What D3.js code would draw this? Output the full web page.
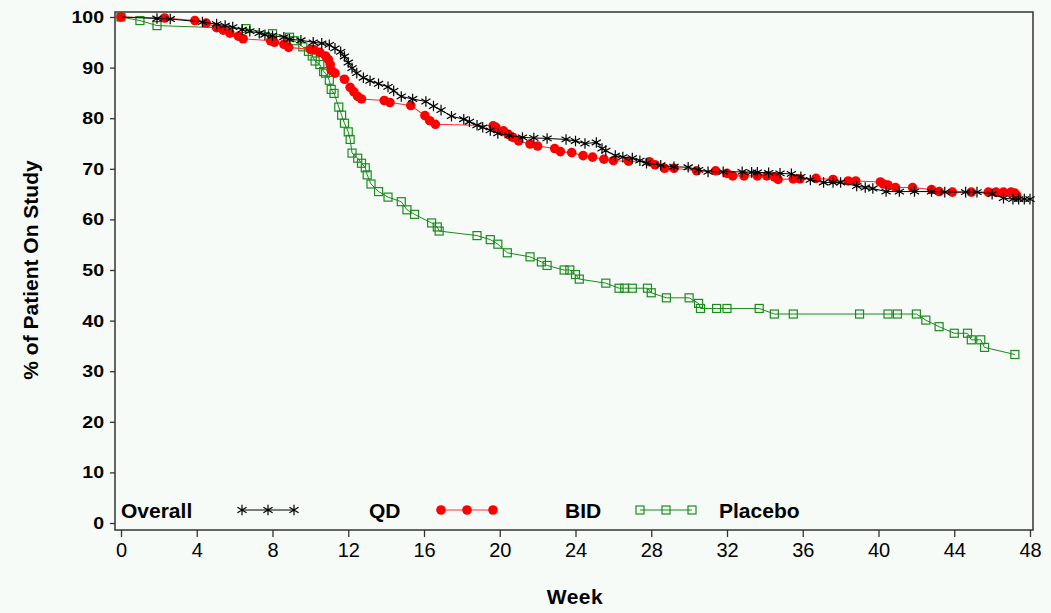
<!DOCTYPE html>
<html>
<head>
<meta charset="utf-8">
<script src="https://cdn.jsdelivr.net/npm/d3@7"></script>
<style>
  body { margin: 0; background: #f6fbf8; }
  svg { display: block; font-family: "Liberation Sans", Arial, sans-serif; }
</style>
</head>
<body>
<div class="container"></div>
<script>
// ---- data (week, % on study) ----
var overallWeeks = [0,1.9,2.6,4.3,5.05,5.5,5.9,6.4,6.8,7.3,7.6,8.0,8.6,8.9,9.5,10.15,10.6,11.0,11.3,11.6,11.8,12.0,12.2,12.45,12.8,13.15,13.6,14.1,14.4,14.8,15.4,16.1,16.5,16.9,17.45,18.1,18.4,18.8,19.1,19.5,19.9,20.5,21.2,21.8,22.5,23.5,24.0,24.5,25.1,25.4,25.6,26.1,26.5,27.0,27.4,27.75,28.5,29.2,29.95,30.5,31.0,31.8,32.8,33.3,33.6,34.2,34.8,35.4,35.9,36.4,37.1,37.6,38.0,38.85,39.3,39.7,40.4,41.1,41.9,42.8,43.5,44.6,45.2,46.0,46.6,47.1,47.4,47.7,48.0];
var overallPct = [100,99.7,99.6,99.0,98.6,98.3,98.0,97.5,97.2,96.8,96.5,96.3,96.0,95.6,95.4,95.0,94.8,94.5,93.8,93.1,92.2,91.0,89.9,88.9,88.0,87.4,86.8,86.2,85.4,84.3,83.8,83.3,82.4,81.6,80.4,79.8,79.3,78.6,78.2,77.6,77.0,76.6,76.2,76.1,76.0,75.8,75.5,75.0,75.2,74.0,73.6,72.6,72.3,72.1,71.6,71.1,70.7,70.4,70.3,69.8,69.4,69.4,69.4,69.3,69.3,69.2,69.1,69.0,68.4,67.8,67.3,67.3,67.3,66.6,66.3,66.1,65.5,65.5,65.5,65.5,65.4,65.4,65.4,65.0,64.2,64.0,64.0,64.0,64.0];

var qdWeeks = [0,2.3,3.9,4.5,5.05,5.4,5.75,6.2,6.45,7.9,8.1,8.6,8.85,10.0,10.2,10.5,10.8,10.95,11.05,11.1,11.3,11.8,12.1,12.3,12.5,12.7,13.9,14.2,15.3,16.05,16.3,16.6,19.65,19.8,20.2,20.45,20.7,21.0,21.6,22.0,22.9,23.2,23.8,24.4,24.9,25.5,26.0,26.8,27.9,28.2,28.7,29.2,30.4,31.4,32.0,32.3,32.9,33.6,34.1,34.5,34.7,35.5,35.85,36.7,37.6,38.4,38.8,40.1,40.25,40.5,40.9,41.8,42.8,43.2,43.9,44.9,45.8,46.2,46.6,47.0,47.2,47.3];
var qdPct = [100,99.8,99.3,98.8,97.9,97.4,96.8,96.2,95.7,95.3,95.0,94.6,94.0,93.6,93.5,93.0,92.3,91.6,90.6,89.5,88.9,87.7,86.1,85.2,84.3,83.8,83.5,83.1,82.5,80.5,79.5,78.8,78.5,78.2,77.5,76.8,76.2,75.5,74.9,74.5,74.0,73.4,73.2,72.6,72.3,71.9,71.6,71.5,71.4,70.8,70.1,70.1,69.6,69.6,69.1,68.6,68.6,68.6,68.6,68.4,67.9,68.0,68.0,68.1,67.9,67.6,67.6,67.4,67.0,66.8,66.3,66.3,65.9,65.5,65.4,65.4,65.4,65.4,65.4,65.4,65.2,64.7];

var bidWeeks = [0,1.0,1.9,6.6,8.0,8.9,9.15,9.6,9.9,10.1,10.25,10.5,10.7,10.8,11.0,11.1,11.25,11.5,11.65,11.8,12.0,12.1,12.2,12.5,12.7,12.9,13.0,13.2,13.6,14.1,14.8,15.1,15.5,16.4,16.7,16.8,18.8,19.5,19.9,20.4,21.6,22.2,22.5,23.4,23.7,24.0,24.2,25.6,26.3,26.6,27.0,27.8,28.0,28.8,30.0,30.5,30.6,31.45,32.0,33.7,34.5,35.5,39.0,40.5,41.0,42.0,42.5,43.2,44.0,44.7,44.9,45.4,45.6,47.2];
var bidPct = [100,99.3,98.3,97.7,96.7,96.0,95.3,94.1,93.2,92.3,91.3,90.6,89.2,88.9,87.5,85.7,84.9,82.2,80.6,79.0,77.3,75.8,73.1,72.1,71.1,70.2,68.8,67.0,65.5,64.4,63.5,61.9,61.0,59.3,58.5,57.7,56.8,56.0,55.1,53.4,52.6,51.6,50.9,50.0,50.0,49.1,48.2,47.4,46.4,46.4,46.4,46.4,45.5,44.5,44.5,43.4,42.4,42.4,42.4,42.4,41.3,41.3,41.3,41.3,41.3,41.3,40.1,38.8,37.5,37.5,36.2,36.2,34.7,33.3];

var weekTicks = [0,4,8,12,16,20,24,28,32,36,40,44,48];
var pctTicks = [0,10,20,30,40,50,60,70,80,90,100];

// ---- layout ----
var width = 1051, height = 613;
var plot = { left: 115, top: 12, right: 1033, bottom: 530 };

var svg = d3.select(".container")
    .append("svg")
        .attr("width", width)
        .attr("height", height);

svg.append("rect")
    .attr("width", width)
    .attr("height", height)
    .attr("fill", "#f6fbf8");

var x = d3.scaleLinear().domain([0, 48]).range([121, 1030]);
var y = d3.scaleLinear().domain([0, 100]).range([523, 17]);

// frame
svg.append("rect")
    .attr("x", plot.left)
    .attr("y", plot.top)
    .attr("width", plot.right - plot.left)
    .attr("height", plot.bottom - plot.top)
    .attr("fill", "none")
    .attr("stroke", "#333")
    .attr("stroke-width", 1.5);

// axes
var yStretch = 1.15;
var yAxis = svg.append("g")
    .attr("transform", "translate(" + plot.left + ",0)")
    .call(d3.axisLeft(y).tickValues(pctTicks).tickSize(5).tickPadding(6));
yAxis.select(".domain").remove();
// SAS draws these digits short and wide
yAxis.selectAll("text")
    .attr("font-size", "17px")
    .attr("font-weight", "bold")
    .attr("fill", "#000")
    .attr("x", -11 / yStretch)
    .attr("transform", "scale(" + yStretch + ",1)");

var xAxis = svg.append("g")
    .attr("transform", "translate(0," + plot.bottom + ")")
    .call(d3.axisBottom(x).tickValues(weekTicks).tickSize(7).tickPadding(6));
xAxis.select(".domain").remove();
xAxis.selectAll("text").attr("font-size", "20px").attr("fill", "#000");

svg.selectAll(".tick line").attr("stroke", "#333").attr("stroke-width", 1.3);

// axis titles
svg.append("text")
    .attr("transform", "translate(38,270) rotate(-90)")
    .attr("text-anchor", "middle")
    .attr("font-size", "21px")
    .attr("font-weight", "bold")
    .text("% of Patient On Study");

svg.append("text")
    .attr("x", 575)
    .attr("y", 604)
    .attr("text-anchor", "middle")
    .attr("font-size", "21px")
    .attr("font-weight", "bold")
    .attr("letter-spacing", "0.5px")
    .text("Week");

// ---- markers ----
function starPath(r) {
    var a = r * Math.cos(Math.PI / 6), b = r * Math.sin(Math.PI / 6);
    return "M0," + (-r) + "V" + r +
           "M" + (-a) + "," + (-b) + "L" + a + "," + b +
           "M" + (-a) + "," + b + "L" + a + "," + (-b);
}

function drawStar(g, cx, cy) {
    g.append("path")
        .attr("transform", "translate(" + cx + "," + cy + ")")
        .attr("d", starPath(5.3))
        .attr("stroke", "#000")
        .attr("stroke-width", 1.2)
        .attr("fill", "none");
}
function drawDot(g, cx, cy) {
    g.append("circle")
        .attr("cx", cx).attr("cy", cy).attr("r", 4.8)
        .attr("fill", "#ff0000");
}
function drawSquare(g, cx, cy) {
    g.append("rect")
        .attr("x", cx - 4).attr("y", cy - 4)
        .attr("width", 8).attr("height", 8)
        .attr("fill", "none")
        .attr("stroke", "#1a8c1a")
        .attr("stroke-width", 1.2);
}

var series = [
    { weeks: bidWeeks, pct: bidPct, color: "#1a8c1a", width: 1, marker: drawSquare },
    { weeks: qdWeeks, pct: qdPct, color: "#ff3030", width: 1.1, marker: drawDot },
    { weeks: overallWeeks, pct: overallPct, color: "#000", width: 1, marker: drawStar }
];

var line = d3.line().x(d => x(d[0])).y(d => y(d[1]));

series.forEach(function (s) {
    var pts = s.weeks.map((w, i) => [w, s.pct[i]]);
    var g = svg.append("g");
    g.append("path")
        .datum(pts)
        .attr("d", line)
        .attr("fill", "none")
        .attr("stroke", s.color)
        .attr("stroke-width", s.width);
    pts.forEach(function (p, i) {
        if (s.marker === drawStar && i === 0) return;
        s.marker(g, x(p[0]), y(p[1]));
    });
});

// ---- legend (as laid out in the original) ----
var legend = svg.append("g").attr("font-size", "21px").attr("font-weight", "bold");
var legendY = 510;

function legendSample(cx0, color, marker) {
    var g = legend.append("g");
    g.append("line")
        .attr("x1", cx0).attr("x2", cx0 + 52)
        .attr("y1", legendY).attr("y2", legendY)
        .attr("stroke", color).attr("stroke-width", 1);
    [0, 26, 52].forEach(dx => marker(g, cx0 + dx, legendY));
}

legend.append("text").attr("x", 121).attr("y", legendY + 8).text("Overall");
legendSample(242, "#000", drawStar);
legend.append("text").attr("x", 369).attr("y", legendY + 8).text("QD");
legendSample(441, "#ff3030", drawDot);
legend.append("text").attr("x", 565).attr("y", legendY + 8).text("BID");
legendSample(640, "#1a8c1a", drawSquare);
legend.append("text").attr("x", 719).attr("y", legendY + 8).text("Placebo");
</script>
</body>
</html>
